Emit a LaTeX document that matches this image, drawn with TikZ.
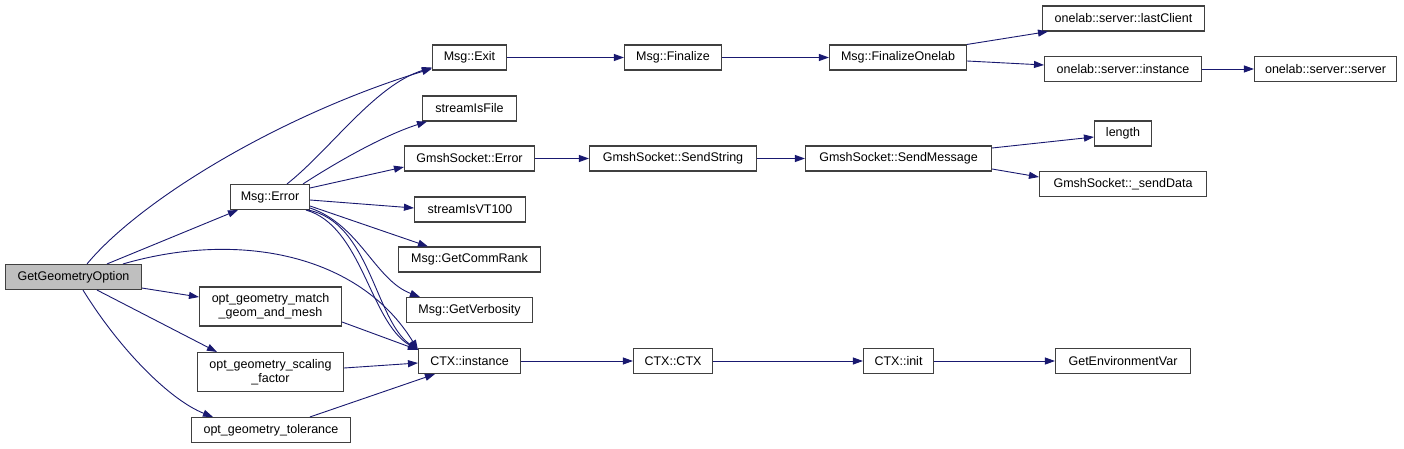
\documentclass[tikz,border=0pt]{standalone}
\usepackage{fontspec}
\setmainfont{Liberation Sans}
\usepackage{xcolor}
\usepackage{tikz}
\usetikzlibrary{arrows.meta}

\definecolor{edgeblue}{HTML}{191970}
\definecolor{rootgray}{HTML}{BFBFBF}

\tikzset{
    fn/.style={draw=black!75, line width=1.1pt, fill=white, minimum height=25pt,
        inner sep=0pt, align=center, font=\fontsize{12.5}{14}\selectfont},
    root/.style={fn, fill=rootgray},
    call/.style={->, >={Triangle[length=10pt,width=7pt]}, edgeblue, line width=0.9pt},
}

\begin{document}
\begin{tikzpicture}[x=1pt, y=-1pt]
    % Canvas
    \fill[white] (0,0) rectangle (1404,449);
    \useasboundingbox (0,0) rectangle (1404,449);

    % Caller and its direct callees
    \node[root, minimum width=136pt] (ggo) at (73.5,277) {GetGeometryOption};
    \node[fn, minimum width=79pt] (err) at (270,197) {Msg::Error};
    \node[fn, minimum width=142pt, minimum height=39pt] (match) at (270.5,306.5) {opt\_geometry\_match\\\_geom\_and\_mesh};
    \node[fn, minimum width=146pt, minimum height=39pt] (scal) at (270.5,372) {opt\_geometry\_scaling\\\_factor};
    \node[fn, minimum width=159pt] (tol) at (271,430) {opt\_geometry\_tolerance};

    % Third column
    \node[fn, minimum width=74pt] (exit) at (469.5,57.5) {Msg::Exit};
    \node[fn, minimum width=94pt] (isfile) at (469.5,108.5) {streamIsFile};
    \node[fn, minimum width=130pt] (gerr) at (469.5,158.5) {GmshSocket::Error};
    \node[fn, minimum width=111pt] (vt) at (470,209.5) {streamIsVT100};
    \node[fn, minimum width=142pt] (rank) at (469.5,259.5) {Msg::GetCommRank};
    \node[fn, minimum width=126pt] (verb) at (469.5,310) {Msg::GetVerbosity};
    \node[fn, minimum width=102pt] (ctxi) at (469.5,361) {CTX::instance};

    % Further down the call chains
    \node[fn, minimum width=97pt] (fin) at (673,57.5) {Msg::Finalize};
    \node[fn, minimum width=167pt] (sstr) at (673,158.5) {GmshSocket::SendString};
    \node[fn, minimum width=79pt] (ctx) at (673,361) {CTX::CTX};
    \node[fn, minimum width=137pt] (finone) at (898,57.5) {Msg::FinalizeOnelab};
    \node[fn, minimum width=186pt] (smsg) at (898.5,158.5) {GmshSocket::SendMessage};
    \node[fn, minimum width=70pt] (init) at (898.5,361) {CTX::init};
    \node[fn, minimum width=162pt] (lastc) at (1123.5,18.5) {onelab::server::lastClient};
    \node[fn, minimum width=157pt] (srvinst) at (1123,69) {onelab::server::instance};
    \node[fn, minimum width=57pt] (len) at (1123,133.5) {length};
    \node[fn, minimum width=167pt] (sdata) at (1123,184) {GmshSocket::\_sendData};
    \node[fn, minimum width=135pt] (env) at (1123,361) {GetEnvironmentVar};
    \node[fn, minimum width=142pt] (srv) at (1325.5,69) {onelab::server::server};

    % Calls from GetGeometryOption
    \draw[call] ([xshift=13.5pt]ggo.north) .. controls (140,200) and (280,115) .. ([yshift=2pt]exit.south west);
    \draw[call] ([xshift=33.5pt]ggo.north) -- ([xshift=8pt]err.south west);
    \draw[call] ([xshift=49.5pt]ggo.north) .. controls (240,230) and (360,255) .. ([yshift=-2pt]ctxi.north west);
    \draw[call] ([yshift=2pt]ggo.south east) -- ([yshift=9.5pt]match.west);
    \draw[call] ([xshift=23.5pt]ggo.south) -- ([xshift=20pt]scal.north west);
    \draw[call] ([xshift=9.5pt]ggo.south) .. controls (120,350) and (170,400) .. ([xshift=22pt]tol.north west);

    % Calls from Msg::Error
    \draw[call] ([xshift=17pt]err.north) .. controls (330,150) and (375,85) .. ([yshift=3pt]exit.south west);
    \draw[call] ([xshift=33pt]err.north) .. controls (340,160) and (385,135) .. ([xshift=5pt]isfile.south west);
    \draw[call] ([yshift=9pt]err.east) -- ([yshift=-8.5pt]gerr.west);
    \draw[call] ([yshift=-3pt]err.east) -- ([yshift=1.5pt]vt.west);
    \draw[call] ([yshift=-9pt]err.east) -- ([xshift=30pt]rank.north west);
    \draw[call] ([yshift=-11pt]err.east) .. controls (360,225) and (375,280) .. ([xshift=14pt]verb.north west);
    \draw[call] ([xshift=-2pt]err.south east) .. controls (370,222) and (375,320) .. ([yshift=-2pt]ctxi.north west);
    \draw[call] ([xshift=-4pt]err.south east) .. controls (362,226) and (370,322) .. ([yshift=-2pt]ctxi.north west);

    % Option helpers into CTX::instance
    \draw[call] ([yshift=-15.5pt]match.east) -- ([yshift=-2pt]ctxi.north west);
    \draw[call] ([yshift=4pt]scal.east) -- ([yshift=-2pt]ctxi.west);
    \draw[call] ([xshift=39pt]tol.north) -- ([xshift=17pt]ctxi.south west);

    % Straight chains
    \foreach \a/\b in {exit/fin, fin/finone, srvinst/srv, gerr/sstr, sstr/smsg, ctxi/ctx, ctx/init, init/env}
        \draw[call] (\a) -- (\b);

    % Fan-outs on the right
    \draw[call] (finone.north east) -- ([xshift=6pt]lastc.south west);
    \draw[call] ([yshift=-3.5pt]finone.east) -- ([yshift=4pt]srvinst.west);
    \draw[call] ([yshift=10.5pt]smsg.east) -- ([yshift=-3.5pt]len.west);
    \draw[call] ([yshift=-10.5pt]smsg.east) -- ([yshift=7pt]sdata.west);
\end{tikzpicture}
\end{document}
